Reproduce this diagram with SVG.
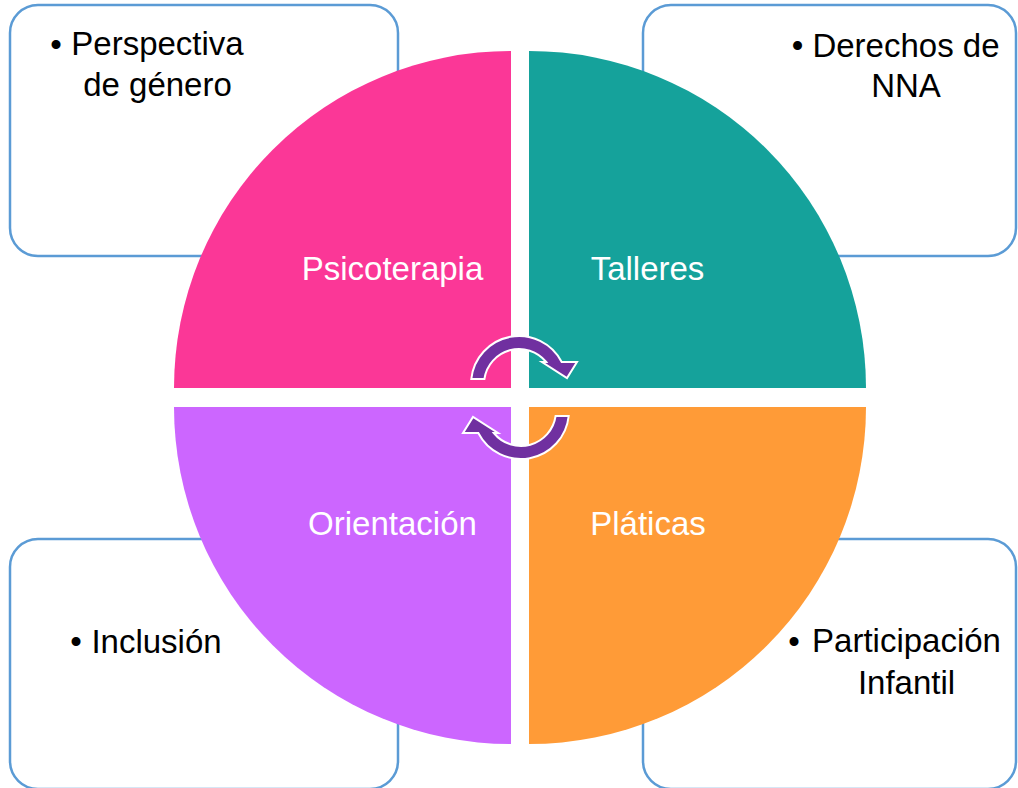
<svg xmlns="http://www.w3.org/2000/svg" width="1018" height="788" viewBox="0 0 1018 788">
<defs>
<style>
.box{fill:#ffffff;stroke:#5B9BD5;stroke-width:2.5}
.bt{font-family:"Liberation Sans",Arial,sans-serif;font-size:33px;fill:#000000;text-anchor:middle}
.ct{font-family:"Liberation Sans",Arial,sans-serif;font-size:33px;fill:#ffffff;text-anchor:middle}
.arr{fill:#7030A0;stroke:#ffffff;stroke-width:2;stroke-linejoin:miter}
</style>
<path id="cyc" class="arr" d="M471.3,379 A48 48 0 0 1 561.7,362 L577,362 L567,378 L542,362 L546.2,362 A35 35 0 0 0 484.4,379 Z"/>
</defs>
<rect width="1018" height="788" fill="#ffffff"/>
<g id="box-perspectiva">
<rect class="box" x="10" y="5" width="388" height="251" rx="28"/>
<text class="bt" x="56" y="56">•</text>
<text class="bt" x="157.5" y="55">Perspectiva</text>
<text class="bt" x="157.5" y="96">de género</text>
</g>
<g id="box-derechos">
<rect class="box" x="643" y="5" width="373" height="251" rx="28"/>
<text class="bt" x="797.5" y="57">•</text>
<text class="bt" x="906" y="57">Derechos de</text>
<text class="bt" x="906" y="97">NNA</text>
</g>
<g id="box-inclusion">
<rect class="box" x="10" y="539" width="388" height="250" rx="28"/>
<text class="bt" x="76" y="653">•</text>
<text class="bt" x="156.5" y="653">Inclusión</text>
</g>
<g id="box-participacion">
<rect class="box" x="643" y="539" width="373" height="250" rx="28"/>
<text class="bt" x="794" y="653">•</text>
<text class="bt" x="906.5" y="652">Participación</text>
<text class="bt" x="906.5" y="694">Infantil</text>
</g>
<g id="psicoterapia">
<path d="M511,388 L174,388 A337 337 0 0 1 511,51 Z" fill="#FB3797"/>
<text class="ct" x="392.5" y="280">Psicoterapia</text>
</g>
<g id="talleres">
<path d="M529,388 L529,51 A337 337 0 0 1 866,388 Z" fill="#15A29B"/>
<text class="ct" x="647.5" y="280">Talleres</text>
</g>
<g id="orientacion">
<path d="M511,407 L511,744 A337 337 0 0 1 174,407 Z" fill="#CC66FF"/>
<text class="ct" x="392.5" y="535">Orientación</text>
</g>
<g id="platicas">
<path d="M529,407 L866,407 A337 337 0 0 1 529,744 Z" fill="#FF9B37"/>
<text class="ct" x="648" y="535">Pláticas</text>
</g>
<g id="connectors">
<use href="#cyc"/>
<use href="#cyc" transform="rotate(180 520 397.5)"/>
</g>
</svg>
